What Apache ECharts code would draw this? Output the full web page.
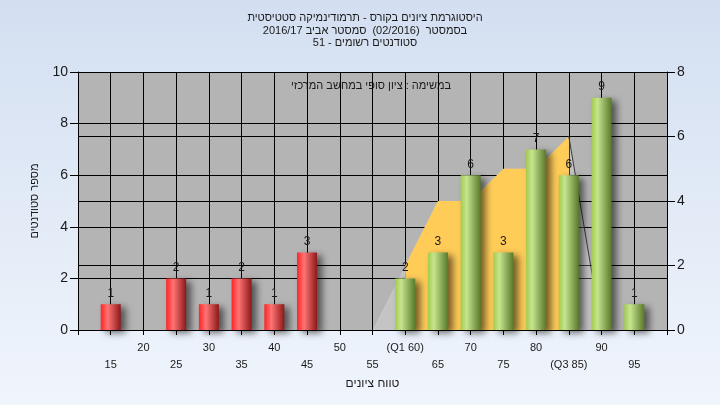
<!DOCTYPE html>
<html>
<head>
<meta charset="utf-8">
<script src="https://cdn.jsdelivr.net/npm/echarts@6/dist/echarts.min.js"></script>
<style>
html,body{margin:0;padding:0;}
#c{width:720px;height:405px;}
</style>
</head>
<body>
<div id="c" dir="rtl"></div>
<script>
// ---- data ----
const titleLines = [
  'היסטוגרמת ציונים בקורס - תרמודינמיקה סטטיסטית',
  'בסמסטר  (02/2016)  סמסטר אביב 2016/17',
  'סטודנטים רשומים - 51'
];
const noteText = 'במשימה : ציון סופי במחשב המרכזי';
const yName = 'מספר סטודנטים';
const xName = 'טווח ציונים';
const failBins = [15, 25, 30, 35, 40, 45];
const failCounts = [1, 2, 1, 2, 1, 3];
const passBins = [60, 65, 70, 75, 80, 85, 90, 95];
const passCounts = [2, 3, 6, 3, 7, 6, 9, 1];
const curveX = [55, 60, 65, 70, 75, 80, 85, 90, 95];
const curveY = [0, 2, 4, 4, 5, 5, 6, 0, 0];
const q1 = 60, q3 = 85;
const xMin = 10, xMax = 100, xStep = 5;

// ---- chart ----
const chart = echarts.init(document.getElementById('c'), null, {renderer: 'canvas'});
const font = 'Liberation Sans, Arial, DejaVu Sans, sans-serif';
const txt = '#1a1a1a';

const redGrad = new echarts.graphic.LinearGradient(0, 0, 1, 0, [
  {offset: 0, color: '#ff2424'}, {offset: 0.35, color: '#ff7474'}, {offset: 1, color: '#8c1818'}
]);
const greenGrad = new echarts.graphic.LinearGradient(0, 0, 1, 0, [
  {offset: 0, color: '#a2cc4c'}, {offset: 0.3, color: '#c7e48f'}, {offset: 1, color: '#597a2a'}
]);
const barShadow = {shadowBlur: 7, shadowOffsetX: 5, shadowOffsetY: 3, shadowColor: 'rgba(0,0,0,0.55)'};

const curveAll = curveX.map((x, i) => [x, curveY[i]]);
const curveIQR = curveAll.filter(p => p[0] >= q1 && p[0] <= q3);
const curveDrop = curveAll.filter(p => p[0] >= q3 && p[0] <= q3 + xStep);

function xLabel(v) {
  if (v <= xMin || v >= xMax) return '';
  let s = String(v);
  if (v === q1) s = '(Q1 ' + v + ')';
  if (v === q3) s = '(Q3 ' + v + ')';
  return (v % 10 === 5) ? '\n' + s : s;
}

chart.setOption({
  animation: false,
  backgroundColor: new echarts.graphic.LinearGradient(0, 0, 0, 1, [
    {offset: 0, color: '#d3dff1'}, {offset: 1, color: '#f0f5fc'}
  ]),
  title: {
    text: titleLines.join('\n'),
    left: 360, top: 7, textAlign: 'center',
    textStyle: {fontFamily: font, fontSize: 11, fontWeight: 'normal', color: txt, lineHeight: 12.5}
  },
  graphic: [{
    type: 'text', left: 291, top: 80,
    style: {text: noteText, font: '11px ' + font, fill: txt}
  }],
  grid: {left: 78, right: 53, top: 72, bottom: 75, show: true, backgroundColor: '#b4b4b4', borderWidth: 0},
  xAxis: {
    type: 'value', min: xMin, max: xMax, interval: xStep,
    name: xName, nameLocation: 'middle', nameGap: 45,
    nameTextStyle: {fontFamily: font, fontSize: 12, color: txt},
    axisLine: {show: true, lineStyle: {color: '#000', width: 1}},
    axisTick: {show: true, length: 5, lineStyle: {color: '#000'}},
    axisLabel: {formatter: xLabel, fontFamily: font, fontSize: 11, color: txt, margin: 9, lineHeight: 17},
    splitLine: {show: true, lineStyle: {color: '#000', width: 1}}
  },
  yAxis: [{
    type: 'value', min: 0, max: 10, interval: 2, position: 'left',
    name: yName, nameLocation: 'middle', nameGap: 38,
    nameTextStyle: {fontFamily: font, fontSize: 11, color: txt},
    axisLine: {show: true, lineStyle: {color: '#000', width: 1}},
    axisTick: {show: true, length: 8, lineStyle: {color: '#000'}},
    axisLabel: {fontFamily: font, fontSize: 14, color: txt, margin: 10},
    splitLine: {show: true, lineStyle: {color: '#000', width: 1}}
  }, {
    type: 'value', min: 0, max: 8, interval: 2, position: 'right',
    axisLine: {show: true, lineStyle: {color: '#000', width: 1}},
    axisTick: {show: true, length: 8, lineStyle: {color: '#000'}},
    axisLabel: {fontFamily: font, fontSize: 14, color: txt, margin: 10},
    splitLine: {show: true, lineStyle: {color: '#000', width: 1}}
  }],
  series: [{
    type: 'line', yAxisIndex: 1, data: curveAll, symbol: 'none', silent: true,
    lineStyle: {width: 0},
    areaStyle: {color: 'rgba(255,255,255,0.22)', opacity: 1}, z: 1
  }, {
    type: 'line', yAxisIndex: 1, data: curveIQR, symbol: 'none', silent: true,
    lineStyle: {width: 0},
    areaStyle: {color: '#ffcc58', opacity: 1}, z: 1
  }, {
    type: 'line', yAxisIndex: 1, data: curveDrop, symbol: 'none', silent: true,
    lineStyle: {width: 1, color: '#3a3a3a'}, z: 1
  }, {
    type: 'bar', yAxisIndex: 0, barWidth: 20, barGap: '-100%',
    data: failBins.map((b, i) => [b, failCounts[i]]),
    itemStyle: Object.assign({color: redGrad}, barShadow),
    label: {show: true, position: 'top', distance: 5, fontFamily: font, fontSize: 12, color: txt,
            formatter: p => p.value[1]},
    z: 3
  }, {
    type: 'bar', yAxisIndex: 0, barWidth: 20, barGap: '-100%',
    data: passBins.map((b, i) => [b, passCounts[i]]),
    itemStyle: Object.assign({color: greenGrad}, barShadow),
    label: {show: true, position: 'top', distance: 5, fontFamily: font, fontSize: 12, color: txt,
            formatter: p => p.value[1]},
    z: 3
  }]
});
</script>
</body>
</html>
